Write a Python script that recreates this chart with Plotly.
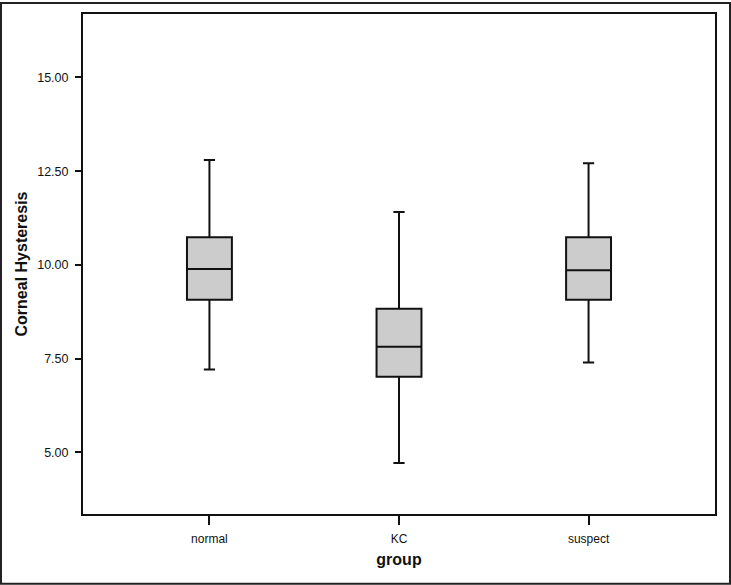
import plotly.graph_objects as go

groups = ["normal", "KC", "suspect"]
lower_whisker = [7.21, 4.72, 7.40]
q1_values = [9.07, 7.02, 9.07]
median_values = [9.89, 7.82, 9.86]
q3_values = [10.74, 8.83, 10.74]
upper_whisker = [12.80, 11.41, 12.71]
y_ticks = [5.0, 7.5, 10.0, 12.5, 15.0]

fig = go.Figure()
fig.add_trace(go.Box(
    x=groups,
    q1=q1_values,
    median=median_values,
    q3=q3_values,
    lowerfence=lower_whisker,
    upperfence=upper_whisker,
    fillcolor="#cccccc",
    line=dict(color="#111111", width=2),
    whiskerwidth=0.25,
    width=0.237,
    boxpoints=False,
    showlegend=False,
    hoverinfo="skip",
))

W, H = 731, 585
L, R, T, B = 83, 16, 12, 71
pw, ph = W - L - R, H - T - B

fig.update_layout(
    width=W, height=H,
    margin=dict(l=L, r=R, t=T, b=B),
    paper_bgcolor="white",
    plot_bgcolor="white",
    font=dict(family="Liberation Sans, Arial, sans-serif", color="#111111", size=12),
    xaxis=dict(
        type="category",
        range=[-0.667, 2.667],
        showline=True, mirror=True, linecolor="#111111", linewidth=2,
        ticks="outside", ticklen=9, tickwidth=1.5, tickcolor="#111111",
        showgrid=False, zeroline=False,
        tickfont=dict(size=12),
        ticklabelstandoff=4,
        title=dict(text="<b>group</b>", font=dict(size=16), standoff=8),
    ),
    yaxis=dict(
        range=[3.36, 16.69],
        tickvals=y_ticks,
        tickformat=".2f",
        showline=True, mirror=True, linecolor="#111111", linewidth=2,
        ticks="outside", ticklen=6, tickwidth=1.5, tickcolor="#111111",
        showgrid=False, zeroline=False,
        tickfont=dict(size=12.5),
        ticklabelstandoff=4,
        title=dict(text="<b>Corneal Hysteresis</b>", font=dict(size=16), standoff=6),
    ),
    shapes=[dict(
        type="rect", xref="paper", yref="paper",
        x0=(1 - L) / pw, x1=(W - 1 - L) / pw,
        y0=-(B - 1) / ph, y1=(ph + T - 1) / ph,
        line=dict(color="#222222", width=2), fillcolor="rgba(0,0,0,0)",
        layer="above",
    )],
)

fig.write_html("out.html", config={"displayModeBar": False},
               post_script="document.body.style.margin='0';")
